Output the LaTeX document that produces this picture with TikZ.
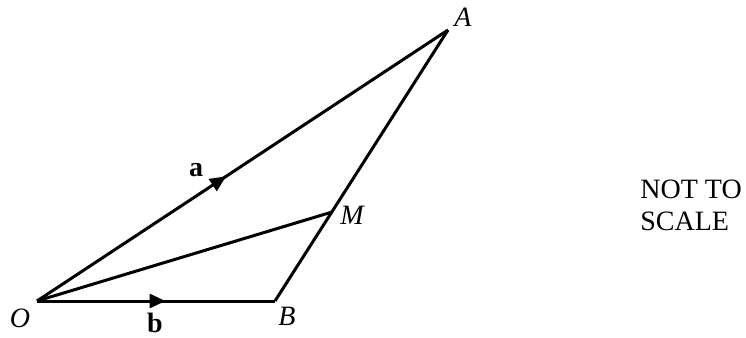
\documentclass[tikz,border=0pt]{standalone}
\usepackage{fontspec}
\setmainfont{Liberation Serif}
\usetikzlibrary{arrows.meta,calc,decorations.markings}
\tikzset{
  vec/.style  ={draw=black, line width=1.5pt, line join=round},
  lab/.style  ={font=\fontsize{14}{16}\selectfont\itshape, inner sep=1pt},
  labv/.style ={font=\fontsize{14}{16}\selectfont\bfseries, inner sep=1pt},
  midtip/.style={postaction={decorate,decoration={markings,
      mark=at position #1 with {\arrow{Triangle[length=8pt,width=7pt]}}}}},
}
\begin{document}
\begin{tikzpicture}[x=0.5pt,y=-0.5pt]
  \useasboundingbox (0,0) rectangle (746,338);
  % points
  \coordinate (O) at (37,301);
  \coordinate (B) at (275,301);
  \coordinate (A) at (448,30);
  \coordinate (M) at ($(A)!0.672!(B)$);
  % sides
  \draw[vec,midtip=0.46] (O) -- (A);
  \draw[vec,midtip=0.54] (O) -- (B);
  \draw[vec] (B) -- (A);
  \draw[vec] (O) -- (M);
  % labels
  \node[lab] (lO) at (20,318) {O};
  \node[lab] (lB) at (287,316) {B};
  \node[lab] (lA) at (463,17) {A};
  \node[lab] (lM) at (352,215) {M};
  \node[labv] (la) at (196,170) {a};
  \node[labv] (lb) at (155,323) {b};
  \node[font=\fontsize{14}{16}\selectfont, align=left, anchor=north west, inner sep=0pt] (nts) at (640,180) {NOT TO\\SCALE};
\end{tikzpicture}
\end{document}
